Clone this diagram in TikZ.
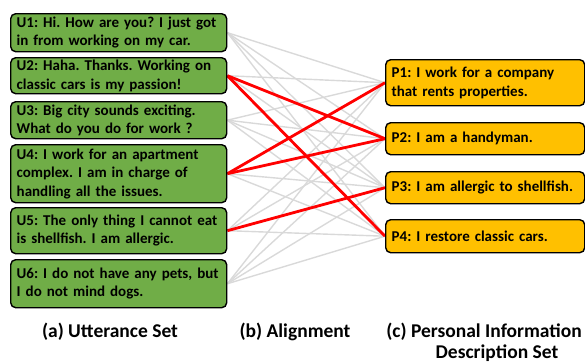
\documentclass[tikz,border=0pt]{standalone}
\usepackage{fontspec}
\setmainfont{Carlito}
\usepackage{xcolor}
\usetikzlibrary{positioning,backgrounds}
\definecolor{uttgreen}{HTML}{70AD47}
\definecolor{persorange}{HTML}{FFC000}
\definecolor{linkgray}{HTML}{D9D9D9}
\definecolor{linkred}{HTML}{FF0000}
\frenchspacing

\begin{document}
\begin{tikzpicture}[x=1pt, y=-1pt,
    ubox/.style={rectangle, rounded corners=5pt, draw=black, line width=1.4pt,
                 fill=uttgreen, anchor=north west, minimum width=216pt,
                 text width=204pt, inner xsep=6pt, inner ysep=1pt, align=left,
                 font=\fontsize{15}{18.5}\selectfont\bfseries},
    pbox/.style={ubox, fill=persorange, minimum width=199pt, text width=187pt},
    caption/.style={align=center, font=\fontsize{19.5}{22}\selectfont\bfseries},
    simlink/.style={draw=linkgray, line width=1.4pt},
    alignlink/.style={draw=linkred, line width=2.8pt},
]
\useasboundingbox (0,0) rectangle (585,362);

% Utterance set
\node[ubox, minimum height=38pt] (u1) at (10,13) {U1: Hi. How are you? I just got\\in from working on my car.};
\node[ubox, minimum height=36pt] (u2) at (10,57) {U2: Haha. Thanks. Working on\\classic cars is my passion!};
\node[ubox, minimum height=37pt] (u3) at (10,101) {U3: Big city sounds exciting.\\What do you do for work ?};
\node[ubox, minimum height=58pt] (u4) at (10,144) {U4: I work for an apartment\\complex. I am in charge of\\handling all the issues.};
\node[ubox, minimum height=46pt] (u5) at (10,207) {U5: The only thing I cannot eat\\is shellfish. I am allergic.};
\node[ubox, minimum height=48pt] (u6) at (10,259) {U6: I do not have any pets, but\\I do not mind dogs.};

% Personal information descriptions
\node[pbox, minimum height=46pt] (p1) at (385,59) {P1: I work for a company\\that rents properties.};
\node[pbox, minimum height=32pt] (p2) at (385,122) {P2: I am a handyman.};
\node[pbox, minimum height=32pt] (p3) at (385,171) {P3: I am allergic to shellfish.};
\node[pbox, minimum height=33pt] (p4) at (385,219) {P4: I restore classic cars.};

% Alignment
\begin{scope}[on background layer]
\foreach \u in {1,...,6}
    \foreach \p in {1,...,4}
        \draw[simlink] (u\u.east) -- (p\p.west);
\foreach \u/\p in {2/2, 2/4, 4/1, 4/2, 5/3}
    \draw[alignlink] (u\u.east) -- (p\p.west);
\end{scope}

% Captions
\node[caption] (capa) at (110,332) {(a) Utterance Set};
\node[caption] (capb) at (295,332) {(b) Alignment};
\node[caption] (capc) at (484,332) {(c) Personal Information};
\node[caption] (capc2) at (497,353) {Description Set};
\end{tikzpicture}
\end{document}
